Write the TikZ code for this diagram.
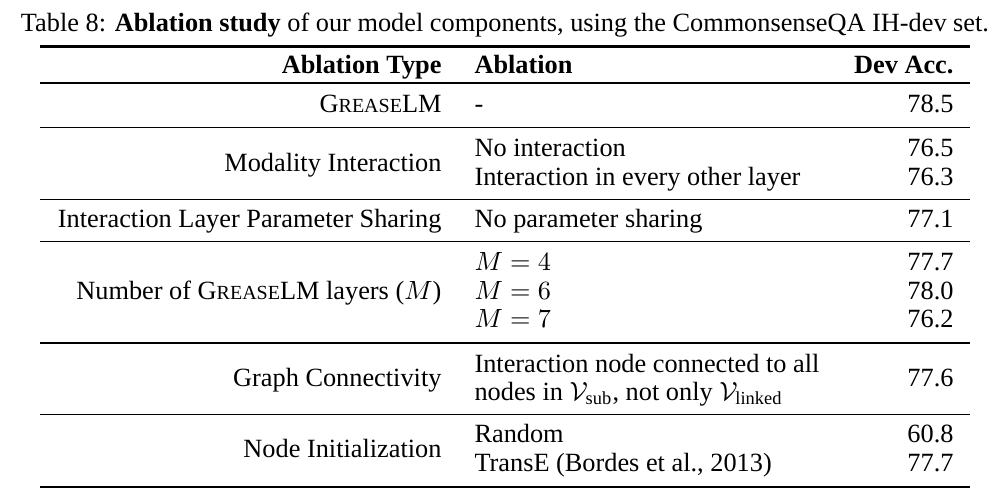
\documentclass[tikz,border=0pt]{standalone}
\usepackage{amsmath}
\usepackage[no-math]{fontspec}
\setmainfont{Liberation Serif}
\usetikzlibrary{positioning}
\newcommand{\glm}{G{\fontsize{7.6}{8}\selectfont REASE}LM}

\begin{document}
\begin{tikzpicture}[x=0.38pt, y=-0.38pt,
    every node/.style={inner sep=0pt, font=\fontsize{10}{11}\selectfont},
    typ/.style={anchor=base east},
    abl/.style={anchor=base west},
    acc/.style={anchor=base east}]
  \useasboundingbox (0,0) rectangle (1008,502);

  \node[anchor=base] (cap) at (505,31.7) {Table 8: \textbf{Ablation study} of our model components, using the CommonsenseQA IH-dev set.};

  \foreach \y/\w in {46.5/0.8pt, 83/0.5pt, 127.5/0.5pt, 199.5/0.5pt, 241.5/0.5pt, 343/0.5pt, 414.5/0.5pt, 487/0.8pt}
    \draw[line width=\w] (40,\y) -- (970,\y);

  \node[typ] (hType) at (442,73.5) {\textbf{Ablation Type}};
  \node[abl] (hAbl)  at (474,73.5) {\textbf{Ablation}};
  \node[acc] (hAcc)  at (954,73.5) {\textbf{Dev Acc.}};

  \node[typ] (t1) at (442,112.7) {\glm};
  \node[abl] (a1) at (474,112.7) {-};
  \node[acc] (v1) at (954,112.7) {78.5};

  \node[typ] (t2) at (442,171) {Modality Interaction};
  \node[abl] (a2) at (474,156.7) {No interaction};
  \node[acc] (v2) at (954,156.7) {76.5};
  \node[abl] (a3) at (474,185.3) {Interaction in every other layer};
  \node[acc] (v3) at (954,185.3) {76.3};

  \node[typ] (t3) at (442,227.7) {Interaction Layer Parameter Sharing};
  \node[abl] (a4) at (474,227.7) {No parameter sharing};
  \node[acc] (v4) at (954,227.7) {77.1};

  \node[typ] (t4) at (442,299.3) {Number of \glm{} layers ($M$)};
  \node[abl] (a5) at (474,270.7) {$M=4$};
  \node[acc] (v5) at (954,270.7) {77.7};
  \node[abl] (a6) at (474,299.3) {$M=6$};
  \node[acc] (v6) at (954,299.3) {78.0};
  \node[abl] (a7) at (474,327.9) {$M=7$};
  \node[acc] (v7) at (954,327.9) {76.2};

  \node[typ] (t5) at (442,386.3) {Graph Connectivity};
  \node[abl] (a8) at (474,372) {Interaction node connected to all};
  \node[abl] (a9) at (474,400.6) {nodes in $\mathcal{V}_{\text{sub}}$, not only $\mathcal{V}_{\text{linked}}$};
  \node[acc] (v8) at (954,386.3) {77.6};

  \node[typ] (t6) at (442,457) {Node Initialization};
  \node[abl] (a10) at (474,442.7) {Random};
  \node[acc] (v9)  at (954,442.7) {60.8};
  \node[abl] (a11) at (474,471.3) {TransE (Bordes et al., 2013)};
  \node[acc] (v10) at (954,471.3) {77.7};
\end{tikzpicture}
\end{document}
